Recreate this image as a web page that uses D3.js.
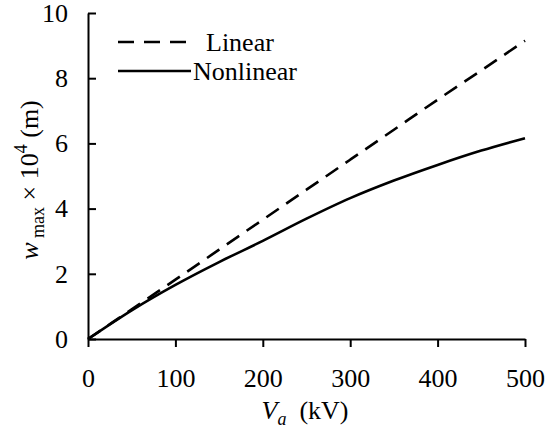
<!DOCTYPE html>
<html>
<head>
<meta charset="utf-8">
<script src="https://cdn.jsdelivr.net/npm/d3@7"></script>
<style>
  html, body { margin: 0; padding: 0; background: #fff; }
  #chart { width: 546px; height: 439px; }
  svg text { font-family: 'Liberation Serif', 'DejaVu Serif', serif !important; fill: #000; }
</style>
</head>
<body>
<div id="chart"></div>
<script>
// Maximum deflection vs applied voltage: linear vs nonlinear model.
var voltage   = [0, 50, 100, 150, 200, 250, 300, 350, 400, 450, 500];
var linear    = [0, 0.91, 1.82, 2.74, 3.66, 4.58, 5.50, 6.42, 7.34, 8.24, 9.15];
var nonlinear = [0, 0.88, 1.66, 2.36, 3.01, 3.69, 4.32, 4.86, 5.34, 5.78, 6.16];
var xTicks = [0, 100, 200, 300, 400, 500];
var yTicks = [0, 2, 4, 6, 8, 10];
var seriesNames = ['Linear', 'Nonlinear'];

(function () {
    var W = 546, H = 439;
    var margin = { top: 13, right: 21, bottom: 100, left: 88 };
    var innerW = W - margin.left - margin.right;
    var innerH = H - margin.top - margin.bottom;
    var serif = "'Liberation Serif', 'DejaVu Serif', serif";

    var svg = d3.select('#chart').append('svg')
        .attr('width', W).attr('height', H);
    var g = svg.append('g')
        .attr('transform', 'translate(' + margin.left + ',' + margin.top + ')');

    var x = d3.scaleLinear().domain([0, 500]).range([0, innerW]);
    var y = d3.scaleLinear().domain([0, 10]).range([innerH, 0]);

    var line = function (vals) {
        return d3.line()
            .x(function (d, i) { return x(voltage[i]); })
            .y(function (d) { return y(d); })
            .curve(d3.curveMonotoneX)(vals);
    };

    g.append('path').attr('d', line(linear))
        .attr('fill', 'none').attr('stroke', '#000')
        .attr('stroke-width', 2.6).attr('stroke-dasharray', '15,9');
    g.append('path').attr('d', line(nonlinear))
        .attr('fill', 'none').attr('stroke', '#000')
        .attr('stroke-width', 2.6);

    // Axes: y ticks point inward, x ticks outward
    var yAxis = g.append('g')
        .call(d3.axisLeft(y).tickValues(yTicks).tickSizeInner(-8).tickSizeOuter(0).tickPadding(20));
    var xAxis = g.append('g')
        .attr('transform', 'translate(0,' + innerH + ')')
        .call(d3.axisBottom(x).tickValues(xTicks).tickSizeInner(8).tickSizeOuter(0).tickPadding(22));
    [yAxis, xAxis].forEach(function (a) {
        a.attr('font-family', serif);
        a.select('.domain').attr('stroke', '#000').attr('stroke-width', 2);
        a.selectAll('.tick line').attr('stroke', '#000').attr('stroke-width', 2);
        a.selectAll('.tick text')
            .attr('font-family', serif)
            .style('font-size', '26px').attr('fill', '#000');
    });

    // Legend
    var legend = g.append('g').attr('font-family', serif);
    [{ name: seriesNames[0], dash: '16,10', y: 29 }, { name: seriesNames[1], dash: null, y: 58 }]
        .forEach(function (d, i) {
            legend.append('line')
                .attr('x1', 30).attr('x2', 103)
                .attr('y1', d.y).attr('y2', d.y)
                .attr('stroke', '#000').attr('stroke-width', 2.6)
                .attr('stroke-dasharray', d.dash);
            legend.append('text')
                .attr('x', i === 0 ? 118 : 105).attr('y', d.y)
                .attr('dy', '0.34em')
                .style('font-size', '26px')
                .text(d.name);
        });

    // Axis titles
    var yt = svg.append('text')
        .attr('transform', 'translate(38,180) rotate(-90)')
        .attr('text-anchor', 'middle')
        .attr('font-family', serif)
        .style('font-size', '26px');
    yt.append('tspan').style('font-style', 'italic').text('w');
    yt.append('tspan').attr('dy', 6).style('font-size', '18px').text(' max');
    yt.append('tspan').attr('dy', -6).text(' × 10');
    yt.append('tspan').attr('dy', -11).style('font-size', '18px').text('4');
    yt.append('tspan').attr('dy', 11).text(' (m)');

    var xt = svg.append('text')
        .attr('x', 305).attr('y', 419)
        .attr('text-anchor', 'middle')
        .attr('font-family', serif)
        .style('font-size', '26px');
    xt.append('tspan').style('font-style', 'italic').text('V');
    xt.append('tspan').attr('dy', 6).style('font-size', '18px').style('font-style', 'italic').text('a');
    xt.append('tspan').attr('dy', -6).text('\u2002(kV)');
})();
</script>
</body>
</html>
